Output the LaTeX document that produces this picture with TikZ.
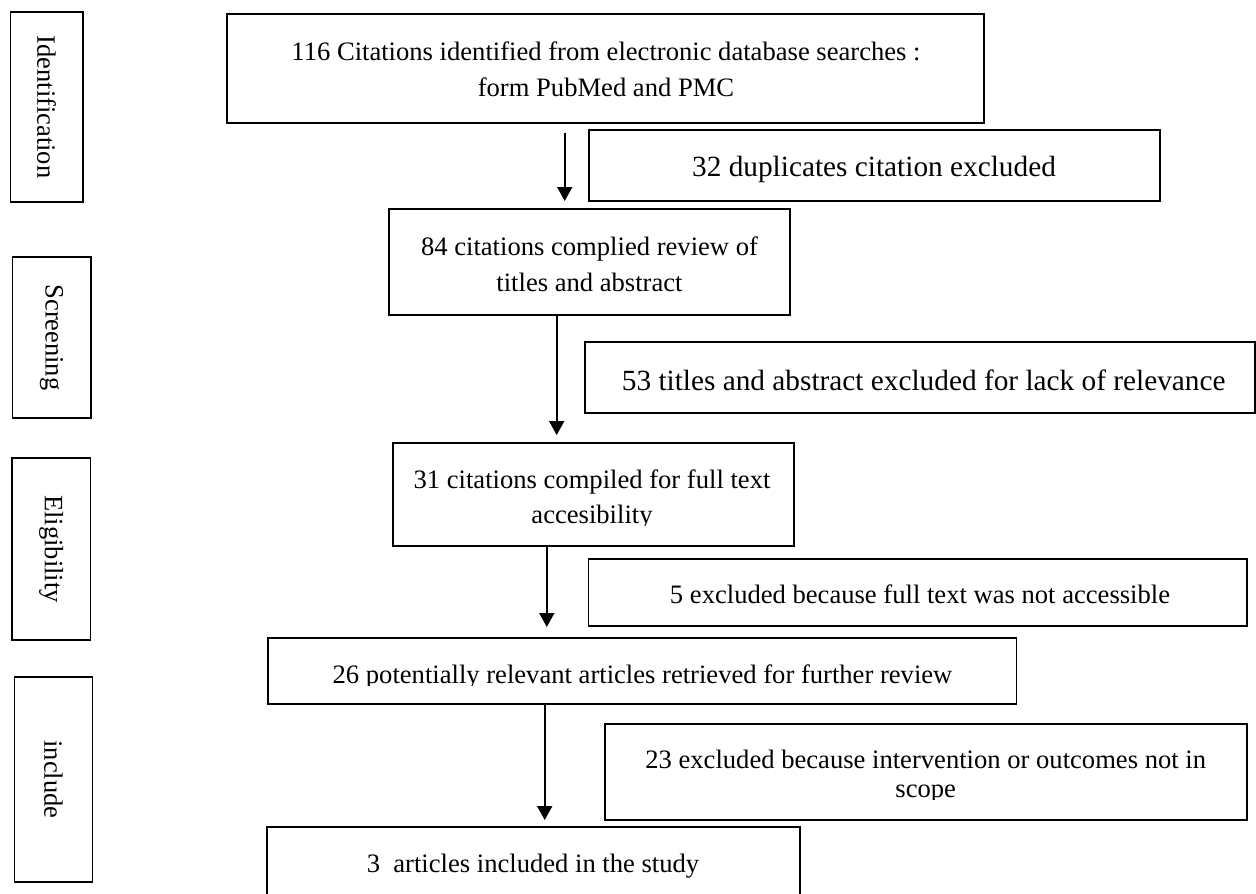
\documentclass[tikz,border=0pt]{standalone}
\usepackage{fontspec}
\setmainfont{Liberation Serif}
\usetikzlibrary{arrows.meta}
\tikzset{
  boxn/.style={draw=black, line width=1.8pt, inner sep=0pt, outer sep=0pt, anchor=north west},
  sidebox/.style={draw=black, line width=1.3pt, inner sep=0pt, outer sep=0pt, anchor=north west},
  txt/.style={inner sep=0pt, anchor=base, font=\fontsize{26.6}{32}\selectfont},
  bigtxt/.style={inner sep=0pt, anchor=base, font=\fontsize{29.3}{35}\selectfont},
  sidetxt/.style={inner sep=0pt, rotate=-90, font=\fontsize{26.5}{32}\selectfont},
  arr/.style={-{Triangle[length=14pt,width=15pt]}, line width=1.8pt}
}
\begin{document}
\begin{tikzpicture}[x=1pt,y=-1pt]
\useasboundingbox (0,0) rectangle (1256,894);
\clip (0,0) rectangle (1256,894);
% side stage boxes
\node[sidebox, minimum width=72.5pt, minimum height=190pt] (sid) at (10.4,12) {};
\node[sidebox, minimum width=78.5pt, minimum height=161pt] (sscr) at (12.4,257) {};
\node[sidebox, minimum width=78.5pt, minimum height=182pt] (selig) at (12,458) {};
\node[sidebox, minimum width=78.1pt, minimum height=205pt] (sinc) at (14.4,677) {};
\node[sidetxt] (tid) at (sid.center) {Identification};
\node[sidetxt] (tscr) at (sscr.center) {Screening};
\node[sidetxt] (telig) at (selig.center) {Eligibility};
\node[sidetxt] (tinc) at (sinc.center) {include};
% flow boxes
\node[boxn, minimum width=756.6pt, minimum height=109pt] (b1) at (227,14) {};
\node[boxn, minimum width=571.1pt, minimum height=71pt] (b32) at (588.7,130) {};
\node[boxn, minimum width=400.7pt, minimum height=106pt] (b84) at (389.3,209) {};
\node[boxn, minimum width=670.1pt, minimum height=71pt] (b53) at (584.7,342) {};
\node[boxn, minimum width=400.7pt, minimum height=103pt] (b31) at (393.3,443) {};
\node[boxn, minimum width=658.3pt, minimum height=67pt] (b5) at (588.5,559) {};
\node[boxn, minimum width=748.5pt, minimum height=66pt] (b26) at (268,638) {};
\node[boxn, minimum width=642.1pt, minimum height=96pt] (b23) at (604.7,724) {};
\node[boxn, minimum width=533.3pt, minimum height=80pt] (b3) at (266.7,827) {};
% texts
\node[txt] (t1a) at (606,60.7) {116 Citations identified from electronic database searches :};
\node[txt] (t1b) at (606,96.7) {form PubMed and PMC};
\node[bigtxt] (t32) at (874,176.7) {32 duplicates citation excluded};
\node[txt] (t84a) at (589.5,255) {84 citations complied review of};
\node[txt] (t84b) at (589.5,291.7) {titles and abstract};
\node[bigtxt] (t53) at (923.7,390) {53 titles and abstract excluded for lack of relevance};
\node[txt] (t31a) at (592,488.7) {31 citations compiled for full text};
\begin{scope}
\clip (393.3,500) rectangle (794,525.5);
\node[txt] (t31b) at (592,523.3) {accesibility};
\end{scope}
\node[txt] (t5) at (920,603) {5 excluded because full text was not accessible};
\begin{scope}
\clip (268,645) rectangle (1016.5,685.5);
\node[txt] (t26) at (642.5,683.5) {26 potentially relevant articles retrieved for further review};
\end{scope}
\node[txt] (t23a) at (925.7,768) {23 excluded because intervention or outcomes not in};
\begin{scope}
\clip (604.7,775) rectangle (1246.8,799.5);
\node[txt] (t23b) at (925.7,797.5) {scope};
\end{scope}
\node[txt] (t3) at (533,872) {3\ \ articles included in the study};
% arrow end points
\coordinate (a1s) at (564.7,133);
\coordinate (a1e) at (564.7,201);
\coordinate (a2s) at (556.7,315);
\coordinate (a2e) at (556.7,435);
\coordinate (a3s) at (546.8,546);
\coordinate (a3e) at (546.8,627);
\coordinate (a4s) at (544.7,704);
\coordinate (a4e) at (544.7,820);
\draw[arr] (a1s) -- (a1e);
\draw[arr] (a2s) -- (a2e);
\draw[arr] (a3s) -- (a3e);
\draw[arr] (a4s) -- (a4e);
\end{tikzpicture}
\end{document}
